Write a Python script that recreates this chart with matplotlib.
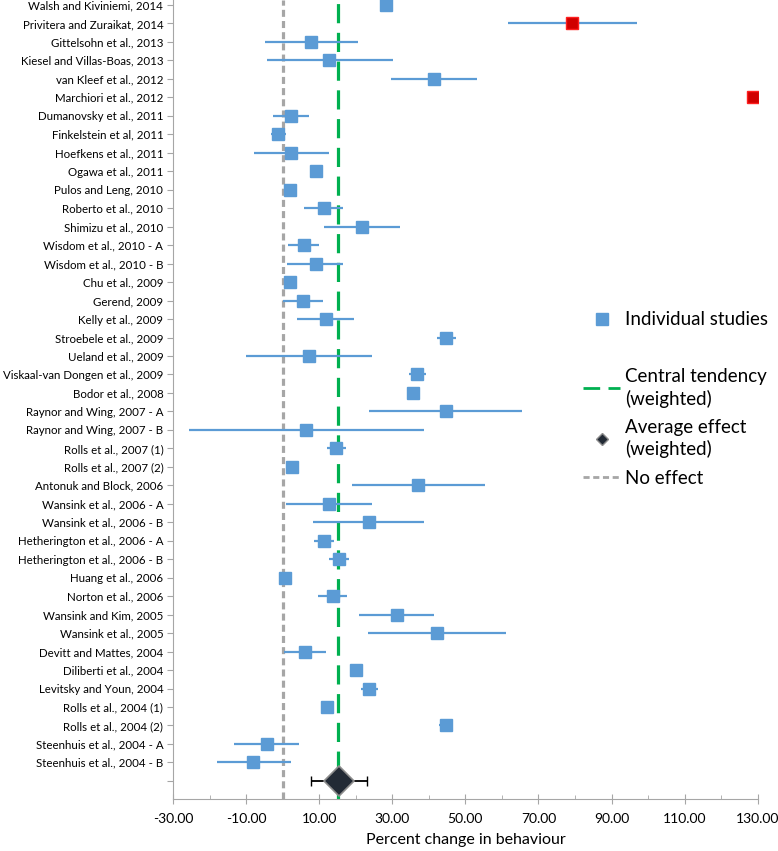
import numpy as np
import matplotlib
matplotlib.use("Agg")
import matplotlib.pyplot as plt
from matplotlib.lines import Line2D
from matplotlib.ticker import FixedLocator, FormatStrFormatter

plt.rcParams['font.family'] = ['Lato', 'DejaVu Sans']

# studies, top to bottom
studies = [
    "Walsh and Kiviniemi, 2014", "Privitera and Zuraikat, 2014", "Gittelsohn et al., 2013",
    "Kiesel and Villas-Boas, 2013", "van Kleef et al., 2012", "Marchiori et al., 2012",
    "Dumanovsky et al., 2011", "Finkelstein et al, 2011", "Hoefkens et al., 2011",
    "Ogawa et al., 2011", "Pulos and Leng, 2010", "Roberto et al., 2010",
    "Shimizu et al., 2010", "Wisdom et al., 2010 - A", "Wisdom et al., 2010 - B",
    "Chu et al., 2009", "Gerend, 2009", "Kelly et al., 2009", "Stroebele et al., 2009",
    "Ueland et al., 2009", "Viskaal-van Dongen et al., 2009", "Bodor et al., 2008",
    "Raynor and Wing, 2007 - A", "Raynor and Wing, 2007 - B", "Rolls et al., 2007 (1)",
    "Rolls et al., 2007 (2)", "Antonuk and Block, 2006", "Wansink et al., 2006 - A",
    "Wansink et al., 2006 - B", "Hetherington et al., 2006 - A", "Hetherington et al., 2006 - B",
    "Huang et al., 2006", "Norton et al., 2006", "Wansink and Kim, 2005",
    "Wansink et al., 2005", "Devitt and Mattes, 2004", "Diliberti et al., 2004",
    "Levitsky and Youn, 2004", "Rolls et al., 2004 (1)", "Rolls et al., 2004 (2)",
    "Steenhuis et al., 2004 - A", "Steenhuis et al., 2004 - B",
]
nan = np.nan
effect = [28.3, 79.3, 7.7, 12.8, 41.4, 128.6, 2.3, -1.4, 2.3, 9.1, 2.0, 11.4,
          21.8, 5.8, 9.1, 2.0, 5.5, 11.8, 44.8, 7.2, 36.8, 35.7, 44.8, 6.4, 14.7,
          2.6, 37.0, 12.7, 23.6, 11.3, 15.5, 0.6, 13.7, 31.2, 42.3, 6.1, 20.2,
          23.7, 12.0, 44.8, -4.4, -8.0]
ci_low = [nan, 61.7, -4.8, -4.4, 29.6, nan, -2.7, -3.3, -7.8, nan, nan, 5.9,
          11.3, 1.5, 1.3, nan, 0.2, 3.8, 42.1, -10.1, 34.6, 34.1, 23.6, -25.7, 12.2,
          0.9, 18.9, 0.8, 8.4, 8.6, 12.8, nan, 9.7, 21.0, 23.3, 0.4, nan,
          21.4, 10.5, 42.8, -13.3, -17.9]
ci_high = [nan, 97.0, 20.5, 30.1, 53.2, nan, 7.3, 0.8, 12.7, nan, nan, 16.6,
           32.1, 10.0, 16.6, nan, 11.1, 19.6, 47.4, 24.5, 39.1, 37.4, 65.6, 38.7, 17.2,
           4.5, 55.3, 24.5, 38.7, 14.0, 18.2, nan, 17.7, 41.5, 61.0, 11.8, nan,
           26.1, 13.7, 46.7, 4.5, 2.2]
outlier = ["Privitera and Zuraikat, 2014", "Marchiori et al., 2012"]

avg_effect = 15.3
avg_low, avg_high = 7.7, 23.1
central_tendency = 15.2

effect = np.array(effect)
ci_low = np.array(ci_low)
ci_high = np.array(ci_high)
y = np.arange(len(studies))
is_out = np.array([s in outlier for s in studies])

fig = plt.figure(figsize=(7.78, 8.51), dpi=100)
ax = fig.add_axes([0.2224, 0.0607, 0.7516, 0.9393])

blue = '#5B9BD5'
ax.axvline(0, color='#A6A6A6', lw=2.3, ls=(0, (2.2, 1.3)), zorder=1)
ax.axvline(central_tendency, color='#00B050', lw=2.3, ls=(0, (6, 3)), zorder=1)

ax.hlines(y, ci_low, ci_high, color=blue, lw=1.6, zorder=2)
ax.plot(effect[~is_out], y[~is_out], 's', color=blue, ms=8.5, mec=blue, zorder=3)
ax.plot(effect[is_out], y[is_out], 's', color='#D00000', ms=8.5, mec='#FF2020', zorder=3)

avg_y = len(studies)
ax.errorbar(avg_effect, avg_y, xerr=[[avg_effect - avg_low], [avg_high - avg_effect]],
            fmt='none', ecolor='black', elinewidth=1.3, capsize=3.5, zorder=2)
ax.plot(avg_effect, avg_y, 'D', color='#222A35', ms=15, mec='#8C8C8C', mew=1.2, zorder=3)

ax.set_xlim(-30, 130)
ax.set_ylim(avg_y + 1, -0.27)
ax.set_yticks(list(y) + [avg_y])
ax.set_yticklabels(studies + [''], fontsize=8.3)
ax.xaxis.set_major_locator(FixedLocator(np.arange(-30, 131, 20)))
ax.xaxis.set_minor_locator(FixedLocator(np.arange(-20, 121, 20)))
ax.xaxis.set_major_formatter(FormatStrFormatter('%.2f'))
ax.tick_params(axis='x', which='major', direction='inout', length=7, color='#A6A6A6',
               labelsize=10, pad=6)
ax.tick_params(axis='x', which='minor', direction='in', length=3, color='#A6A6A6')
ax.tick_params(axis='y', direction='out', length=4, color='#A6A6A6', pad=3)
for side in ['top', 'right']:
    ax.spines[side].set_visible(False)
for side in ['left', 'bottom']:
    ax.spines[side].set_color('#A6A6A6')
ax.set_xlabel('Percent change in behaviour', fontsize=11.5, labelpad=6)

handles = [
    Line2D([], [], ls='none', marker='s', color=blue, ms=8),
    Line2D([], [], ls='none'),
    Line2D([], [], color='#00B050', lw=2, ls=(0, (6, 3))),
    Line2D([], [], ls='none', marker='D', color='#222A35', ms=6, mec='#8C8C8C'),
    Line2D([], [], color='#A6A6A6', lw=2, ls=(0, (2.2, 1.3))),
]
labels = ['Individual studies', ' ', 'Central tendency\n(weighted)',
          'Average effect\n(weighted)', 'No effect']
leg = ax.legend(handles, labels, loc='upper left', bbox_to_anchor=(0.737, 0.645),
                bbox_transform=fig.transFigure, frameon=False, fontsize=13.5,
                handlelength=2.0, handletextpad=0.25, labelspacing=0.6, borderpad=0)
for t in leg.get_texts():
    t.set_linespacing(1.3)

fig.savefig('out.png', dpi=100)
